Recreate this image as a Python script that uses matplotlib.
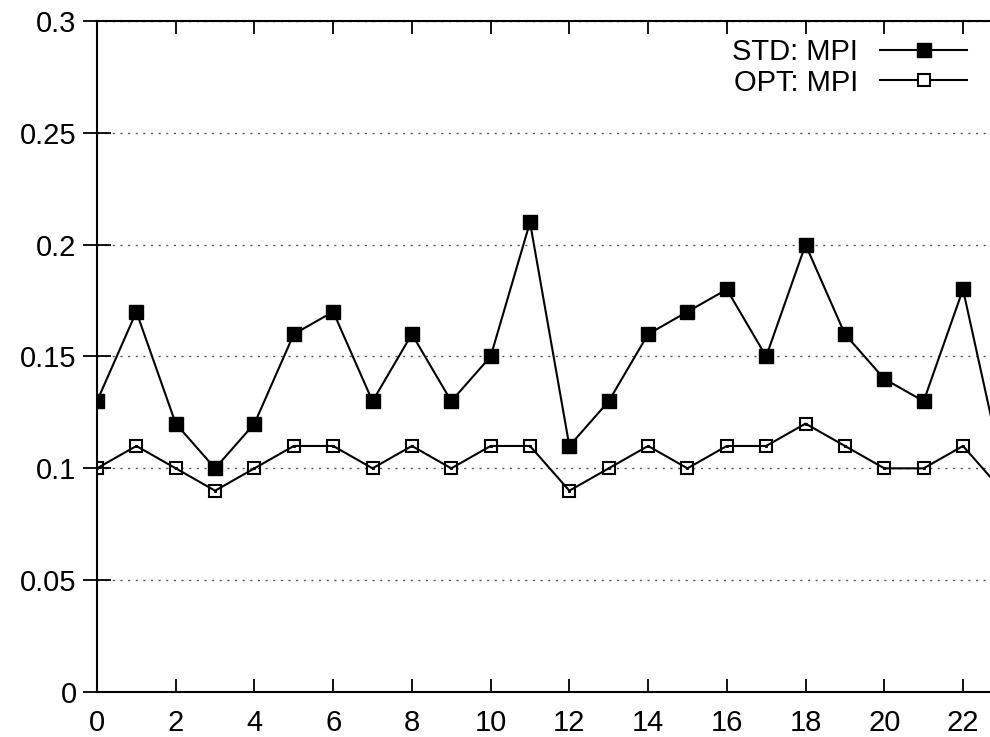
import matplotlib
matplotlib.use("Agg")
import matplotlib.pyplot as plt
from matplotlib.lines import Line2D

plt.rcParams['font.family'] = ['Liberation Sans', 'DejaVu Sans']

x = list(range(24))
std_mpi = [0.13, 0.17, 0.12, 0.10, 0.12, 0.16, 0.17, 0.13, 0.16, 0.13, 0.15, 0.21,
           0.11, 0.13, 0.16, 0.17, 0.18, 0.15, 0.20, 0.16, 0.14, 0.13, 0.18, 0.10]
opt_mpi = [0.10, 0.11, 0.10, 0.09, 0.10, 0.11, 0.11, 0.10, 0.11, 0.10, 0.11, 0.11,
           0.09, 0.10, 0.11, 0.10, 0.11, 0.11, 0.12, 0.11, 0.10, 0.10, 0.11, 0.09]
labels = ["STD: MPI", "OPT: MPI"]
xticks = list(range(0, 23, 2))
yticks = [0, 0.05, 0.1, 0.15, 0.2, 0.25, 0.3]
yticklabels = ["0", "0.05", "0.1", "0.15", "0.2", "0.25", "0.3"]

W, H = 990, 737
fig = plt.figure(figsize=(W / 100, H / 100), dpi=100)
px_per_unit = (963 - 97) / 22.0
xmax = 24
left = 97 / W
bottom = 1 - 692 / H
top = 1 - 21 / H
width = xmax * px_per_unit / W
ax = fig.add_axes([left, bottom, width, top - bottom])

ax.plot(x, std_mpi, color='black', lw=1.5, marker='s', ms=10,
        mfc='black', mec='black')
ax.plot(x, opt_mpi, color='black', lw=1.5, marker='s', ms=9.2,
        mfc='none', mec='black', mew=1.5)
ax.plot(x, opt_mpi, linestyle='none', marker='s', ms=1.2, color='black')

ax.set_xlim(0, xmax)
ax.set_ylim(0, 0.3)
ax.set_xticks(xticks)
ax.set_yticks(yticks)
ax.set_yticklabels(yticklabels)

for s in ax.spines.values():
    s.set_linewidth(1.5)

ax.tick_params(axis='x', direction='in', top=True, length=9.5, width=1.3,
               labelsize=21, pad=12)
ax.tick_params(axis='y', direction='inout', right=True, length=19.5, width=1.3,
               labelsize=21, pad=5)

ax.yaxis.grid(True, linestyle=(0, (1.5, 4)), color='#555555', linewidth=1.0)
ax.set_axisbelow(True)

h_std = Line2D([], [], color='black', lw=1.5, marker='s', ms=10,
               mfc='black', mec='black')
h_opt = Line2D([], [], color='black', lw=1.5, marker='s', ms=9.2,
               mfc='white', mec='black', mew=1.5)
leg = ax.legend([h_std, h_opt], labels, loc='upper right',
                bbox_to_anchor=(967 / W, 1 - 38 / H),
                bbox_transform=fig.transFigure, frameon=False, markerfirst=False,
                fontsize=21, handlelength=2.98, handletextpad=0.75,
                labelspacing=0.09, borderpad=0, borderaxespad=0)

fig.savefig("out.png", dpi=100)
